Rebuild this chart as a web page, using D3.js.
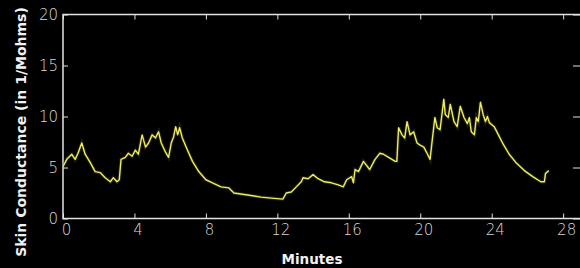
<!DOCTYPE html>
<html>
<head>
<meta charset="utf-8">
<script src="https://cdn.jsdelivr.net/npm/d3@7"></script>
<style>
  html, body { margin: 0; padding: 0; background: #000; }
  svg { display: block; }
</style>
</head>
<body>
<div id="chart"></div>
<script>
// skin conductance trace
var minutes = [0.00, 0.21, 0.49, 0.68, 0.84, 1.05, 1.24, 1.52, 1.80, 2.08, 2.36, 2.65, 2.82, 3.02, 3.15,
  3.25, 3.49, 3.66, 3.87, 4.05, 4.22, 4.43, 4.62, 4.79, 4.99, 5.18, 5.35, 5.50, 5.74, 5.91, 6.06,
  6.19, 6.31, 6.42, 6.53, 6.68, 6.97, 7.25, 7.60, 8.00, 8.37, 8.84, 9.29, 9.57, 10.34, 11.09, 11.66,
  12.31, 12.50, 12.78, 13.06, 13.34, 13.44, 13.72, 14.00, 14.28, 14.64, 15.03, 15.41, 15.69, 15.88,
  16.16, 16.26, 16.35, 16.54, 16.82, 17.17, 17.47, 17.74, 17.94, 18.23, 18.60, 18.69, 18.79, 18.98,
  19.13, 19.26, 19.43, 19.63, 19.82, 19.99, 20.20, 20.38, 20.55, 20.66, 20.82, 20.95, 21.11, 21.32,
  21.40, 21.57, 21.68, 21.89, 22.07, 22.24, 22.45, 22.64, 22.75, 22.86, 23.03, 23.14, 23.25, 23.37,
  23.52, 23.65, 23.76, 23.87, 24.14, 24.32, 24.61, 24.98, 25.35, 25.83, 26.30, 26.75, 26.95, 27.01, 27.20];
var conductance = [5.1, 5.8, 6.3, 5.8, 6.4, 7.4, 6.3, 5.5, 4.6, 4.5, 4.0, 3.6, 4.0, 3.6, 3.8,
  5.8, 6.0, 6.4, 6.1, 6.7, 6.3, 8.2, 7.0, 7.4, 8.2, 7.9, 8.5, 7.4, 6.5, 6.0, 7.4,
  8.0, 9.0, 8.2, 8.9, 7.9, 6.7, 5.6, 4.6, 3.8, 3.5, 3.1, 3.0, 2.5, 2.3, 2.1, 2.0,
  1.9, 2.5, 2.6, 3.1, 3.6, 4.0, 3.9, 4.3, 3.9, 3.6, 3.5, 3.3, 3.1, 3.8,
  4.1, 3.5, 4.8, 4.6, 5.6, 4.8, 5.8, 6.4, 6.3, 6.0, 5.6, 5.6, 8.9, 8.2,
  7.9, 9.5, 8.2, 8.5, 7.4, 7.2, 7.0, 6.4, 5.8, 7.5, 9.9, 8.9, 8.7, 11.7,
  10.2, 9.9, 11.2, 9.5, 9.0, 11.0, 9.9, 9.3, 9.9, 8.5, 8.2, 9.9, 9.5, 11.4,
  10.2, 9.5, 10.0, 9.4, 9.0, 8.4, 7.4, 6.3, 5.5, 4.7, 4.1, 3.6, 3.6, 4.4, 4.7];
var xTicks = [0, 4, 8, 12, 16, 20, 24, 28];
var yTicks = [0, 5, 10, 15, 20];

(function () {
  var W = 580, H = 268;
  var mLeft = 63, mRight = 581, mTop = 14.5, mBottom = 218.5;

  var svg = d3.select("#chart").append("svg")
    .attr("width", W).attr("height", H)
    .style("background", "#000");

  var x = d3.scaleLinear().domain([0, 29]).range([mLeft, mRight]);
  var y = d3.scaleLinear().domain([0, 20]).range([mBottom, mTop]);

  var tickFont = "'DejaVu Sans', sans-serif";
  var axisCol = "#e2e2e2";

  function styleAxis(g, showText) {
    g.select(".domain").remove();
    g.selectAll("line").attr("stroke", axisCol).attr("stroke-width", 1);
    g.selectAll("text")
      .attr("fill", "#d8d8d8")
      .style("font-family", tickFont)
      .style("font-weight", "200")
      .style("font-size", "15px");
    if (!showText) g.selectAll("text").remove();
  }

  // bottom axis with labels, ticks pointing up
  svg.append("g")
    .attr("transform", "translate(0," + mBottom + ")")
    .call(d3.axisBottom(x).tickValues(xTicks).tickSizeInner(-5).tickSizeOuter(0).tickPadding(6))
    .call(styleAxis, true)
    .selectAll("text").attr("dx", "3");

  // top axis, ticks pointing down
  svg.append("g")
    .attr("transform", "translate(0," + mTop + ")")
    .call(d3.axisTop(x).tickValues(xTicks).tickSizeInner(-5).tickSizeOuter(0))
    .call(styleAxis, false);

  // left axis with labels
  svg.append("g")
    .attr("transform", "translate(" + mLeft + ",0)")
    .call(d3.axisLeft(y).tickValues(yTicks).tickSizeInner(-5).tickSizeOuter(0).tickPadding(5))
    .call(styleAxis, true);

  // right axis
  svg.append("g")
    .attr("transform", "translate(" + mRight + ",0)")
    .call(d3.axisRight(y).tickValues(yTicks).tickSizeInner(-8).tickSizeOuter(0))
    .call(styleAxis, false);

  // frame
  svg.append("rect")
    .attr("x", mLeft).attr("y", mTop)
    .attr("width", mRight - mLeft).attr("height", mBottom - mTop)
    .attr("fill", "none")
    .attr("stroke", axisCol)
    .attr("stroke-width", 1.5);

  var pts = minutes.map(function(m, i) { return [m, conductance[i]]; });
  var line = d3.line()
    .x(function(d) { return x(d[0]); })
    .y(function(d) { return y(d[1]); });

  // faint halo like the original render
  svg.append("path")
    .datum(pts)
    .attr("d", line)
    .attr("fill", "none")
    .attr("stroke", "#5a5a20")
    .attr("stroke-opacity", 0.35)
    .attr("stroke-width", 3.5);

  svg.append("path")
    .datum(pts)
    .attr("d", line)
    .attr("fill", "none")
    .attr("stroke", "#ecec62")
    .attr("stroke-width", 1.4)
    .attr("stroke-linejoin", "round");

  // axis titles
  svg.append("text")
    .attr("x", 312)
    .attr("y", 264)
    .attr("text-anchor", "middle")
    .attr("fill", "#f2f2f2")
    .style("font-family", "'DejaVu Sans', sans-serif")
    .style("font-weight", "bold")
    .style("font-size", "13.5px")
    .text("Minutes");

  svg.append("text")
    .attr("transform", "translate(26,132) rotate(-90)")
    .attr("text-anchor", "middle")
    .attr("fill", "#f2f2f2")
    .style("font-family", "'DejaVu Sans', sans-serif")
    .style("font-weight", "bold")
    .style("font-size", "14px")
    .text("Skin Conductance (in 1/Mohms)");
})();
</script>
</body>
</html>
